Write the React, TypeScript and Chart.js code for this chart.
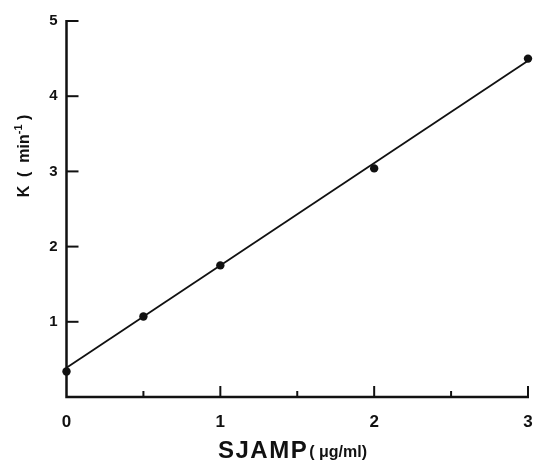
import React, { useEffect, useRef } from "react";
import { Chart, registerables } from "chart.js";

Chart.register(...registerables);

// Measured rate constant K versus SJAMP concentration
const concentration = [0, 0.5, 1, 2, 3];
const rateK = [0.34, 1.07, 1.75, 3.04, 4.5];

// Straight-line fit through the measurements
const fitX = [0, 3];
const fitY = [0.39, 4.47];

// Axis ticks
const xTickValues = [0, 1, 2, 3];
const xMinorTicks = [0.5, 1.5, 2.5];
const yTickValues = [1, 2, 3, 4, 5];

const FONT = "'Liberation Sans', Arial, Helvetica, sans-serif";
const INK = "#111";

// Axis lines, inward tick marks and the two axis titles
const axesPlugin = {
  id: "paperAxes",
  afterDraw(chart: any) {
    const { ctx, chartArea } = chart;
    const xs = chart.scales.x;
    const ys = chart.scales.y;
    const { left, right, bottom } = chartArea;
    ctx.save();
    ctx.strokeStyle = INK;
    ctx.lineCap = "butt";

    // axis lines
    ctx.lineWidth = 2.5;
    ctx.beginPath();
    ctx.moveTo(left, ys.getPixelForValue(5) - 1);
    ctx.lineTo(left, bottom);
    ctx.lineTo(right + 1, bottom);
    ctx.stroke();

    // y ticks pointing into the plot
    ctx.lineWidth = 2;
    yTickValues.forEach((v) => {
      const y = ys.getPixelForValue(v);
      ctx.beginPath();
      ctx.moveTo(left, y);
      ctx.lineTo(left + 12, y);
      ctx.stroke();
    });

    // x ticks pointing up
    xTickValues.forEach((v) => {
      if (v === 0) return;
      const x = xs.getPixelForValue(v);
      ctx.beginPath();
      ctx.moveTo(x, bottom);
      ctx.lineTo(x, bottom - 11);
      ctx.stroke();
    });
    xMinorTicks.forEach((v) => {
      const x = xs.getPixelForValue(v);
      ctx.beginPath();
      ctx.moveTo(x, bottom);
      ctx.lineTo(x, bottom - 6);
      ctx.stroke();
    });

    ctx.fillStyle = INK;

    // x title: SJAMP (µg/ml)
    ctx.textBaseline = "alphabetic";
    ctx.textAlign = "left";
    ctx.font = `bold 24px ${FONT}`;
    const big = "SJAMP";
    (ctx as any).letterSpacing = "1.5px";
    const bigW = ctx.measureText(big).width;
    ctx.fillText(big, 218, 458);
    (ctx as any).letterSpacing = "0px";
    ctx.font = `bold 16px ${FONT}`;
    ctx.fillText("( μg/ml)", 218 + bigW + 1, 457);

    // y title: K ( min⁻¹ ), rotated
    ctx.translate(23, 156);
    ctx.rotate(-Math.PI / 2);
    const mainFont = `bold 16px ${FONT}`;
    const supFont = `bold 11px ${FONT}`;
    const parts: [string, string, number][] = [
      ["K  (  min", mainFont, 0],
      ["-1", supFont, -7],
      [" )", mainFont, 0],
    ];
    let total = 0;
    parts.forEach(([t, f]) => {
      ctx.font = f;
      total += ctx.measureText(t).width;
    });
    let cx = -total / 2;
    parts.forEach(([t, f, dy]) => {
      ctx.font = f;
      ctx.fillText(t, cx, 6 + dy);
      cx += ctx.measureText(t).width;
    });

    ctx.restore();
  },
};

export default function App() {
  const canvasRef = useRef<HTMLCanvasElement | null>(null);

  useEffect(() => {
    if (!canvasRef.current) return;
    const chart = new Chart(canvasRef.current, {
      type: "scatter",
      data: {
        datasets: [
          {
            type: "line",
            data: fitX.map((x, i) => ({ x, y: fitY[i] })),
            borderColor: INK,
            borderWidth: 1.8,
            pointRadius: 0,
            fill: false,
            clip: false as any,
          },
          {
            type: "scatter",
            data: concentration.map((x, i) => ({ x, y: rateK[i] })),
            backgroundColor: INK,
            borderColor: INK,
            pointRadius: 4.2,
            borderWidth: 0,
            clip: false as any,
          },
        ],
      },
      options: {
        responsive: false,
        animation: false,
        layout: { padding: { top: 21, right: 6, left: 0, bottom: 0 } },
        plugins: {
          legend: { display: false },
          tooltip: { enabled: false },
        },
        scales: {
          x: {
            type: "linear",
            min: 0,
            max: 3,
            grid: { display: false, drawTicks: false },
            border: { display: false },
            afterFit: (s: any) => {
              s.height = 67;
              s.paddingLeft = 0;
              s.paddingRight = 0;
            },
            afterBuildTicks: (s: any) => {
              s.ticks = xTickValues.map((v) => ({ value: v }));
            },
            ticks: {
              padding: 15,
              color: INK,
              font: { family: FONT, size: 17, weight: "bold" },
              callback: (v: any) => String(v),
            },
          },
          y: {
            type: "linear",
            min: 0,
            max: 5,
            grid: { display: false, drawTicks: false },
            border: { display: false },
            afterFit: (s: any) => {
              s.width = 66.5;
              s.paddingTop = 0;
              s.paddingBottom = 0;
            },
            afterBuildTicks: (s: any) => {
              s.ticks = yTickValues.map((v) => ({ value: v }));
            },
            ticks: {
              padding: 9,
              color: INK,
              font: { family: FONT, size: 15, weight: "bold" },
              callback: (v: any) => String(v),
            },
          },
        },
      } as any,
      plugins: [axesPlugin],
    });
    return () => chart.destroy();
  }, []);

  return (
    <div
      style={{
        position: "fixed",
        left: 0,
        top: 0,
        width: 534,
        height: 464,
        background: "#fff",
      }}
    >
      <canvas
        ref={canvasRef}
        width={534}
        height={464}
        style={{ width: 534, height: 464, display: "block" }}
      />
    </div>
  );
}
